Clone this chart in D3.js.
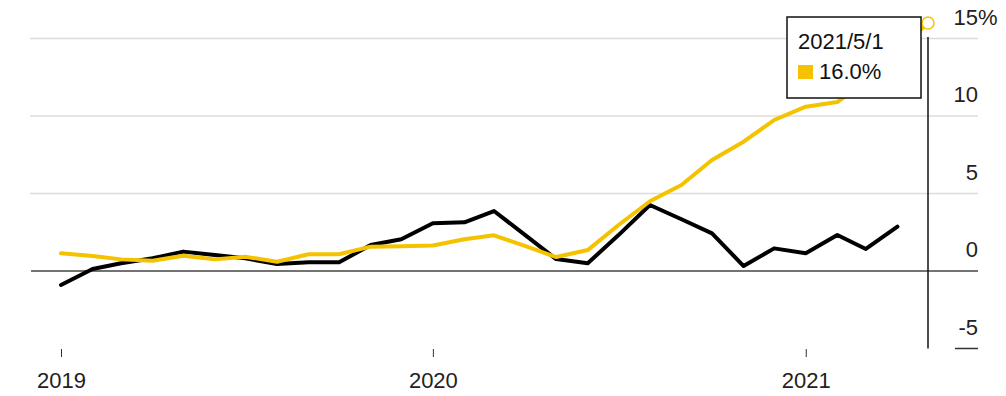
<!DOCTYPE html>
<html>
<head>
<meta charset="utf-8">
<script src="https://cdn.jsdelivr.net/npm/d3@7"></script>
<style>
  body { margin: 0; background: #fff; }
  svg { display: block; font-family: "Liberation Sans", Arial, Helvetica, sans-serif; }
</style>
</head>
<body>
<svg width="1006" height="396"></svg>
<script>
// monthly observations, first of each month
const months = [
  "2019-01", "2019-02", "2019-03", "2019-04", "2019-05", "2019-06",
  "2019-07", "2019-08", "2019-09", "2019-10", "2019-11", "2019-12",
  "2020-01", "2020-02", "2020-03", "2020-04", "2020-05", "2020-06",
  "2020-07", "2020-08", "2020-09", "2020-10", "2020-11", "2020-12",
  "2021-01", "2021-02", "2021-03", "2021-04", "2021-05"
];
const blackValues = [
  -0.9, 0.13, 0.5, 0.82, 1.25, 1.03, 0.82, 0.45, 0.56, 0.56, 1.68, 2.05,
  3.08, 3.14, 3.87, 2.3, 0.77, 0.5, 2.3, 4.26, 3.34, 2.43, 0.32, 1.46,
  1.14, 2.32, 1.42, 2.86
];
const yellowValues = [
  1.14, 0.97, 0.75, 0.66, 0.99, 0.75, 0.92, 0.6, 1.08, 1.08, 1.57, 1.6,
  1.65, 2.05, 2.3, 1.6, 0.9, 1.35, 2.95, 4.5, 5.55, 7.16, 8.34, 9.74,
  10.6, 10.9, 12.3, 14.2, 16.0
];
const yTicks = [-5, 0, 5, 10, 15];
const xTickYears = ["2019", "2020", "2021"];
const hoverDate = "2021-05";
const hoverLabel = "2021/5/1";

const yellow = "#f5c200";
const parse = d3.timeParse("%Y-%m");

const svg = d3.select("svg");
const x = d3.scaleTime()
  .domain([parse(months[0]), parse(months[months.length - 1])])
  .range([61, 928]);
const y = d3.scaleLinear()
  .domain([-5, 15])
  .range([348.5, 38.5]);

const gridLeft = 30, gridRight = 978;

// gridlines
svg.append("g")
  .selectAll("line")
  .data(yTicks.filter(d => d > 0))
  .join("line")
    .attr("x1", gridLeft).attr("x2", gridRight)
    .attr("y1", d => y(d)).attr("y2", d => y(d))
    .attr("stroke", "#dcdcdc")
    .attr("stroke-width", 1.5);

// zero line
svg.append("line")
  .attr("x1", gridLeft + 1).attr("x2", gridRight)
  .attr("y1", y(0)).attr("y2", y(0))
  .attr("stroke", "#444")
  .attr("stroke-width", 1.5);

// short -5 tick
svg.append("line")
  .attr("x1", 955).attr("x2", gridRight)
  .attr("y1", y(-5)).attr("y2", y(-5))
  .attr("stroke", "#333")
  .attr("stroke-width", 1.5);

// y labels
const yl = svg.append("g")
  .attr("font-size", 22)
  .attr("fill", "#222");
yl.selectAll("text.num")
  .data(yTicks)
  .join("text")
    .attr("class", "num")
    .attr("x", gridRight)
    .attr("y", d => y(d) - 14)
    .attr("text-anchor", "end")
    .text(d => d);
yl.append("text")
  .attr("x", gridRight)
  .attr("y", y(15) - 14)
  .text("%");

// x axis
const xAxis = svg.append("g")
  .attr("transform", "translate(0,349)")
  .call(d3.axisBottom(x)
    .tickValues(xTickYears.map(d => d3.timeParse("%Y")(d)))
    .tickFormat(d3.timeFormat("%Y"))
    .tickSize(8)
    .tickPadding(15));
xAxis.select(".domain").remove();
xAxis.selectAll(".tick line").attr("stroke", "#333");
xAxis.selectAll(".tick text")
  .attr("font-size", 22)
  .attr("font-family", "Liberation Sans, Arial, sans-serif")
  .attr("fill", "#222");

// lines
const line = d3.line()
  .x(d => x(d.date))
  .y(d => y(d.value));

const blackData = blackValues.map((v, i) => ({date: parse(months[i]), value: v}));
const yellowData = yellowValues.map((v, i) => ({date: parse(months[i]), value: v}));

svg.append("path")
  .datum(blackData)
  .attr("d", line)
  .attr("fill", "none")
  .attr("stroke", "#000")
  .attr("stroke-width", 4)
  .attr("stroke-linejoin", "round")
  .attr("stroke-linecap", "round");

svg.append("path")
  .datum(yellowData)
  .attr("d", line)
  .attr("fill", "none")
  .attr("stroke", yellow)
  .attr("stroke-width", 4)
  .attr("stroke-linejoin", "round")
  .attr("stroke-linecap", "round");

// hover marker
const hx = x(parse(hoverDate));
const hv = yellowValues[months.indexOf(hoverDate)];
svg.append("line")
  .attr("x1", hx).attr("x2", hx)
  .attr("y1", y(15) - 1.5).attr("y2", y(-5))
  .attr("stroke", "#111")
  .attr("stroke-width", 1.5);
svg.append("circle")
  .attr("cx", hx).attr("cy", y(hv))
  .attr("r", 6)
  .attr("fill", "#fff")
  .attr("stroke", yellow)
  .attr("stroke-width", 1.5);

// tooltip
const tip = svg.append("g").attr("transform", "translate(787,17)");
tip.append("rect")
  .attr("width", 134).attr("height", 81)
  .attr("fill", "#fff")
  .attr("stroke", "#111")
  .attr("stroke-width", 1.5);
tip.append("text")
  .attr("x", 11).attr("y", 32)
  .attr("font-size", 22)
  .attr("fill", "#111")
  .text(hoverLabel);
tip.append("rect")
  .attr("x", 11).attr("y", 48)
  .attr("width", 15).attr("height", 14)
  .attr("fill", yellow);
tip.append("text")
  .attr("x", 32).attr("y", 62)
  .attr("font-size", 22)
  .attr("fill", "#111")
  .text(d3.format(".1f")(hv) + "%");
</script>
</body>
</html>
